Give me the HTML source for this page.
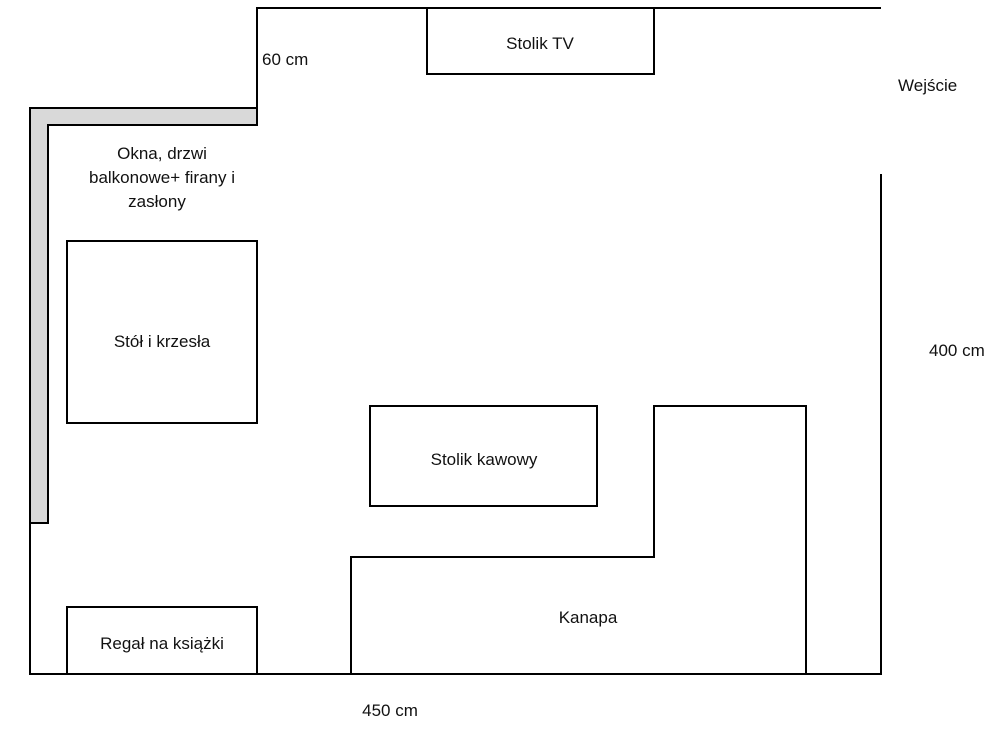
<!DOCTYPE html>
<html><head><meta charset="utf-8"><style>
html,body{margin:0;padding:0;background:#fff;width:1000px;height:732px;overflow:hidden}
svg text{font-family:"Liberation Sans",sans-serif;font-size:17px;fill:#111}
</style></head><body>
<svg width="1000" height="732" viewBox="0 0 1000 732" xmlns="http://www.w3.org/2000/svg">
<g stroke="#000" stroke-width="2" fill="none">
<path d="M30,108 L257,108 L257,125 L48,125 L48,523 L30,523 Z" fill="#d9d9d9"/>
<polyline points="30,523 30,674 881,674 881,174"/>
<polyline points="257,108 257,8 881,8"/>
<rect x="427" y="8" width="227" height="66" fill="#fff"/>
<rect x="67" y="241" width="190" height="182"/>
<rect x="67" y="607" width="190" height="67"/>
<rect x="370" y="406" width="227" height="100"/>
<polyline points="351,674 351,557 654,557 654,406 806,406 806,674"/>
</g>
<text x="262" y="65">60 cm</text>
<text x="540" y="49" text-anchor="middle">Stolik TV</text>
<text x="898" y="91">Wejście</text>
<text x="162" y="159" text-anchor="middle">Okna, drzwi</text>
<text x="162" y="183" text-anchor="middle">balkonowe+ firany i</text>
<text x="157" y="207" text-anchor="middle">zasłony</text>
<text x="162" y="347" text-anchor="middle">Stół i krzesła</text>
<text x="929" y="356">400 cm</text>
<text x="484" y="465" text-anchor="middle">Stolik kawowy</text>
<text x="588" y="623" text-anchor="middle">Kanapa</text>
<text x="162" y="649" text-anchor="middle">Regał na książki</text>
<text x="390" y="716" text-anchor="middle">450 cm</text>
</svg>
</body></html>
